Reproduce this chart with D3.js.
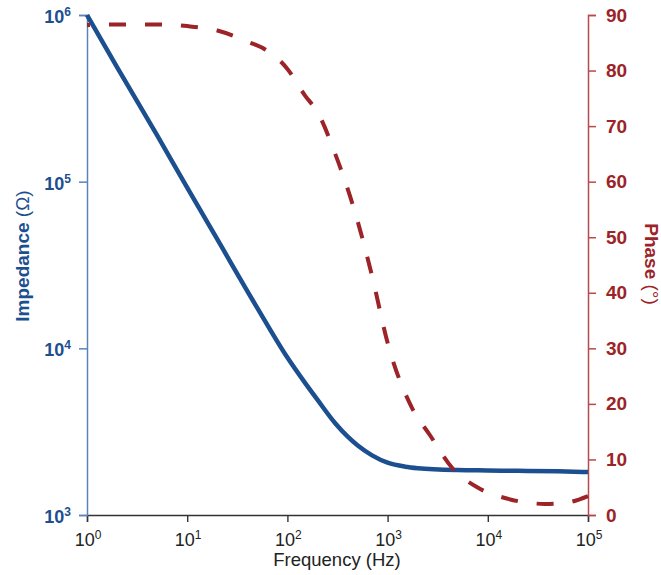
<!DOCTYPE html>
<html>
<head>
<meta charset="utf-8">
<script src="https://cdn.jsdelivr.net/npm/d3@7"></script>
<style>
  body { margin: 0; background: #fff; }
  text { font-family: "Liberation Sans", Arial, sans-serif; }
</style>
</head>
<body>
<div id="plot"></div>
<script>
// values
var freqZ = [1, 2, 5, 10, 20, 50, 100, 150, 200, 300, 400, 500, 700, 1000, 1500, 2000, 5000, 10000, 20000, 50000, 100000];
var impedance = [1.0e6, 4.85e5, 1.9e5, 9.2e4, 4.5e4, 1.75e4, 8.8e3, 6.2e3, 4.9e3, 3.55e3, 2.95e3, 2.62e3, 2.28e3, 2.06e3, 1.95e3, 1.91e3, 1.86e3, 1.85e3, 1.84e3, 1.83e3, 1.81e3];
var freqP = [1, 2, 5, 10, 20, 40, 60, 100, 150, 200, 300, 500, 700, 1000, 1750, 2640, 4400, 8000, 16000, 37000, 60000, 100000];
var phase = [88.2, 88.3, 88.3, 88.0, 87.2, 85.2, 83.8, 80.3, 75.5, 72.5, 65, 53, 43, 31, 19.3, 14.4, 8.5, 4.9, 2.9, 2.0, 2.2, 3.4];
var freqTicks = [0, 1, 2, 3, 4, 5];      // exponents of 10
var zTicks = [3, 4, 5, 6];
var phaseTicks = [0, 10, 20, 30, 40, 50, 60, 70, 80, 90];

var blue = "#1c4f8f", red = "#9c2327";

var svg = d3.select("div#plot")
  .append("svg")
  .attr("width", 661)
  .attr("height", 575);

var x = d3.scaleLog().domain([1, 1e5]).range([87, 588]);
var yZ = d3.scaleLog().domain([1e3, 1e6]).range([515, 15]);
var yP = d3.scaleLinear().domain([0, 90]).range([515, 15]);

// minor ticks 2..9 in each decade
function minors(lo, hi) {
  var out = [];
  for (var e = lo; e < hi; e++)
    for (var m = 2; m <= 9; m++) out.push(m * Math.pow(10, e));
  return out;
}

// bottom axis
var gx = svg.append("g").attr("transform", "translate(0,515)");
gx.call(d3.axisBottom(x).tickValues(minors(0, 5)).tickSize(4).tickFormat(""));
gx.call(d3.axisBottom(x).tickValues(freqTicks.map(e => Math.pow(10, e))).tickSize(7).tickFormat(""));
gx.selectAll("path, line").attr("stroke", "#333").attr("stroke-width", 1.4);

gx.selectAll(".xlab")
  .data(freqTicks)
  .enter().append("text")
  .attr("class", "xlab")
  .attr("x", d => x(Math.pow(10, d)) + 1)
  .attr("y", 31)
  .attr("text-anchor", "middle")
  .attr("fill", "#222")
  .style("font-size", "18px")
  .each(function(d) {
    var t = d3.select(this);
    t.append("tspan").text("10");
    t.append("tspan").attr("dy", -7).style("font-size", "12px").text(d);
  });

// left axis
var gy = svg.append("g").attr("transform", "translate(87,0)");
gy.call(d3.axisLeft(yZ).tickValues(minors(3, 6)).tickSize(4).tickFormat(""));
gy.call(d3.axisLeft(yZ).tickValues(zTicks.map(e => Math.pow(10, e))).tickSize(8).tickFormat(""));
gy.selectAll("path, line").attr("stroke", "#5b83bb").attr("stroke-width", 1.5);

gy.selectAll(".ylab")
  .data(zTicks)
  .enter().append("text")
  .attr("class", "ylab")
  .attr("x", -16)
  .attr("y", d => yZ(Math.pow(10, d)) + 8)
  .attr("text-anchor", "end")
  .attr("fill", blue)
  .style("font-size", "18px")
  .style("font-weight", "bold")
  .each(function(d) {
    var t = d3.select(this);
    t.append("tspan").text("10");
    t.append("tspan").attr("dy", -7).style("font-size", "12px").text(d);
  });

// right axis
var gp = svg.append("g").attr("transform", "translate(588,0)");
gp.call(d3.axisRight(yP).tickValues(phaseTicks).tickSize(8).tickPadding(10).tickFormat(d3.format("d")));
gp.selectAll("path, line").attr("stroke", "#b8494d").attr("stroke-width", 1.5);
gp.selectAll("text")
  .attr("fill", red)
  .style("font-size", "19px")
  .style("font-weight", "bold")
  .style("font-family", "'Liberation Sans', Arial, sans-serif");

// curves
var lineZ = d3.line()
  .x(d => x(d[0]))
  .y(d => yZ(d[1]))
  .curve(d3.curveMonotoneX);
var lineP = d3.line()
  .x(d => x(d[0]))
  .y(d => yP(d[1]))
  .curve(d3.curveMonotoneX);

svg.append("path")
  .datum(d3.zip(freqZ, impedance))
  .attr("fill", "none")
  .attr("stroke", blue)
  .attr("stroke-width", 4.5)
  .attr("d", lineZ);

svg.append("path")
  .datum(d3.zip(freqP, phase))
  .attr("fill", "none")
  .attr("stroke", red)
  .attr("stroke-width", 4)
  .attr("stroke-dasharray", "17,19")
  .attr("stroke-dashoffset", 14)
  .attr("d", lineP);

// axis titles
svg.append("text")
  .attr("x", 337)
  .attr("y", 566)
  .attr("text-anchor", "middle")
  .attr("fill", "#222")
  .style("font-size", "18.5px")
  .text("Frequency (Hz)");

var tz = svg.append("text")
  .attr("transform", "translate(29,256) rotate(-90)")
  .attr("text-anchor", "middle")
  .attr("fill", blue)
  .style("font-size", "19px")
  .style("font-weight", "bold");
tz.append("tspan").text("Impedance ");
tz.append("tspan").style("font-weight", "normal").text("(Ω)");

var tp = svg.append("text")
  .attr("transform", "translate(645,264) rotate(90)")
  .attr("text-anchor", "middle")
  .attr("fill", red)
  .style("font-size", "19px")
  .style("font-weight", "bold");
tp.append("tspan").text("Phase ");
tp.append("tspan").style("font-weight", "normal").text("(°)");
</script>
</body>
</html>
